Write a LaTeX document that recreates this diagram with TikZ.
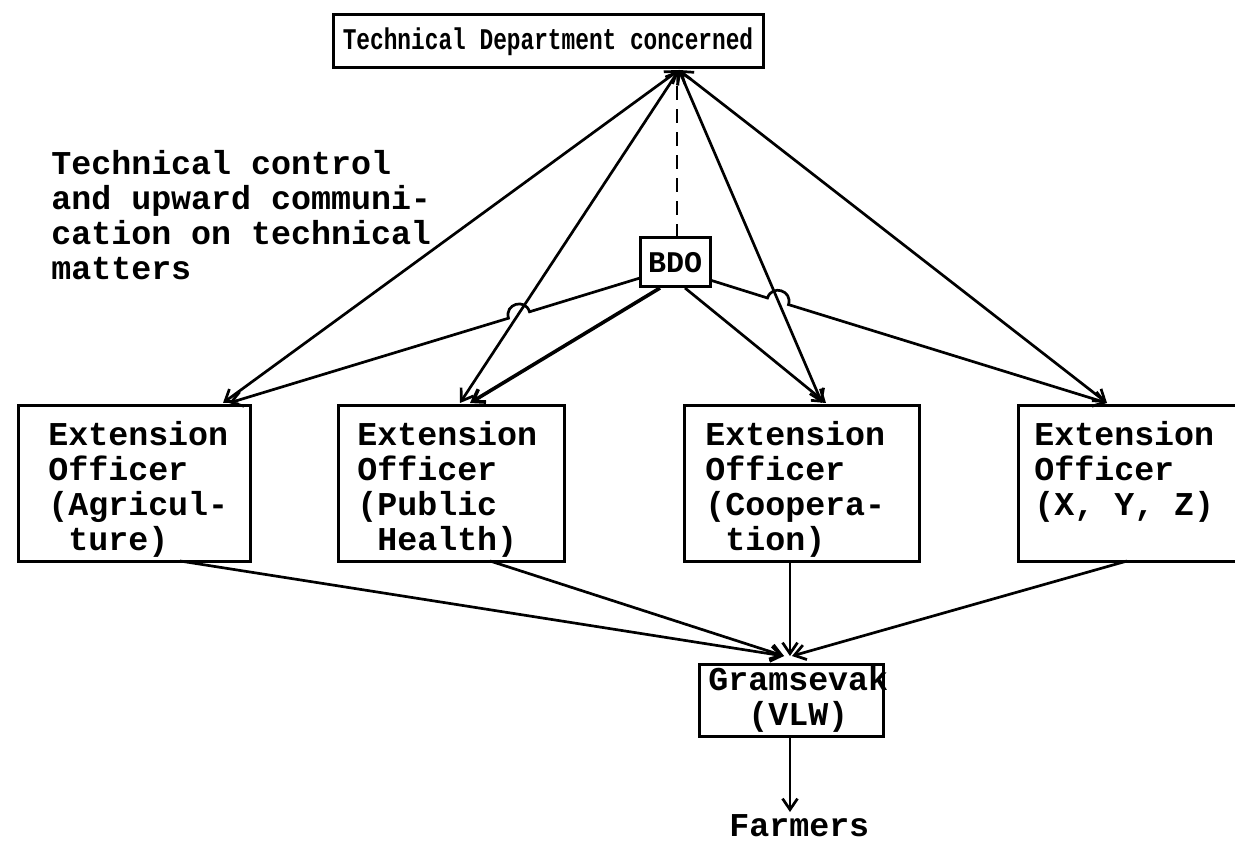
\documentclass[tikz,border=0pt]{standalone}
\usepackage{fontspec}
\setmainfont{Liberation Mono}
\usetikzlibrary{arrows.meta}
\begin{document}
\begin{tikzpicture}[x=1pt,y=-1pt,line width=2.7pt,
  tw/.style={font=\fontsize{33.3}{35}\selectfont\bfseries, inner sep=0pt, align=left},
  frame/.style={draw, line width=3pt, inner sep=0pt},
  arr/.style={-{Straight Barb[length=11pt,width=15pt]}},
  darr/.style={{Straight Barb[length=11pt,width=15pt]}-{Straight Barb[length=11pt,width=15pt]}}]
\useasboundingbox (0,0) rectangle (1235,842);
\fill[white] (0,0) rectangle (1235,842);
\clip (0,0) rectangle (1235,842);

% nodes
\node[frame, minimum width=430pt, minimum height=53pt,
      font=\fontsize{30}{32}\selectfont\bfseries] (dept) at (548,41.5) {\scalebox{0.76}[1]{Technical Department concerned}};
\node[tw, anchor=north west] (label) at (50,149) {Technical control\\and upward communi-\\cation on technical\\matters};
\node[frame, minimum width=70pt, minimum height=49pt,
      font=\fontsize{30}{32}\selectfont\bfseries] (bdo) at (675,262.5) {BDO};

\node[frame, anchor=north west, minimum width=232pt, minimum height=156pt] (ext1) at (17,404) {};
\node[tw, anchor=north west] (t1) at (47,420) {Extension\\Officer\\(Agricul-\\\hphantom{(}ture)};
\node[frame, anchor=north west, minimum width=226pt, minimum height=156pt] (ext2) at (337,404) {};
\node[tw, anchor=north west] (t2) at (356,420) {Extension\\Officer\\(Public\\\hphantom{(}Health)};
\node[frame, anchor=north west, minimum width=235pt, minimum height=156pt] (ext3) at (683,404) {};
\node[tw, anchor=north west] (t3) at (704,420) {Extension\\Officer\\(Coopera-\\\hphantom{(}tion)};
\node[frame, anchor=north west, minimum width=240pt, minimum height=156pt] (ext4) at (1017,404) {};
\node[tw, anchor=north west] (t4) at (1033,420) {Extension\\Officer\\(X, Y, Z)};

\node[frame, anchor=north west, minimum width=184pt, minimum height=72pt] (gram) at (698,663) {};
\node[tw, anchor=north west] (gt) at (707,665) {Gramsevak\\\hphantom{((}(VLW)};
\node[tw, anchor=base west] (farm) at (728,836) {Farmers};

% attachment points
\coordinate (T) at (679,70);
\coordinate (dtop) at (677,76);
\coordinate (dbot) at (677,238);
\coordinate (a1) at (223,403);
\coordinate (b1) at (229,403);
\coordinate (a2) at (460,403);
\coordinate (b2) at (470,403);
\coordinate (a3) at (822,403);
\coordinate (b3) at (826,403);
\coordinate (a4) at (1107,403);
\coordinate (bL) at (640,278);
\coordinate (bS1) at (660,288);
\coordinate (bS2) at (685,288);
\coordinate (bR) at (710,280);
\coordinate (s1) at (180,561);
\coordinate (s2) at (490,561);
\coordinate (s3) at (790,561);
\coordinate (s4) at (1127,561);
\coordinate (G) at (784,656);
\coordinate (Gv) at (790,656);
\coordinate (Gr) at (792,656);
\coordinate (gb) at (790,736);
\coordinate (fa) at (790,812);
% hop points
\coordinate (h1) at (529.5,311.8);
\coordinate (h2) at (508.5,318.2);
\coordinate (c1) at (525.2,297.7);
\coordinate (c2) at (504.2,304.1);
\coordinate (h3) at (767.5,298.0);
\coordinate (h4) at (788.5,304.6);
\coordinate (c3) at (771.9,284.0);
\coordinate (c4) at (792.9,290.6);

% technical control lines
\draw[darr] (T) -- (a1);
\draw[darr] (T) -- (a2);
\draw[darr] (T) -- (a3);
\draw[darr] (T) -- (a4);
\draw[dash pattern=on 14pt off 9pt] (dbot) -- (dtop);

% BDO lines
\draw[arr] (bL) -- (h1) .. controls (c1) and (c2) .. (h2) -- (b1);
\draw[arr, line width=3.6pt] (bS1) -- (b2);
\draw[arr] (bS2) -- (b3);
\draw[arr] (bR) -- (h3) .. controls (c3) and (c4) .. (h4) -- (a4);

% lower lines
\draw[arr] (s1) -- (G);
\draw[arr] (s2) -- (G);
\draw[arr] (s3) -- (Gv);
\draw[arr] (s4) -- (Gr);
\draw[arr] (gb) -- (fa);
\end{tikzpicture}
\end{document}
